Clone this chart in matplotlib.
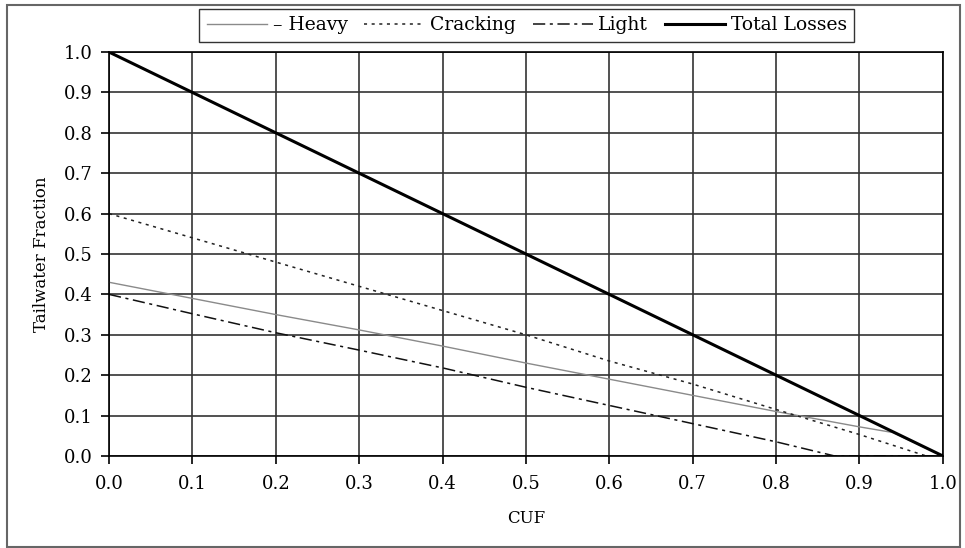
import matplotlib
matplotlib.use("Agg")
import matplotlib.pyplot as plt
from matplotlib.patches import Rectangle

plt.rcParams['font.family'] = ['DejaVu Serif']

# CUF vs tailwater fraction
heavy_x = [0.0, 0.1, 0.2, 0.3, 0.4, 0.5, 0.6, 0.7, 0.8, 0.9, 0.94, 1.0]
heavy_y = [0.43, 0.39, 0.35, 0.312, 0.272, 0.23, 0.19, 0.15, 0.11, 0.072, 0.058, 0.0]

cracking_x = [0.0, 0.1, 0.2, 0.3, 0.4, 0.5, 0.6, 0.7, 0.8, 0.9, 0.98, 1.0]
cracking_y = [0.60, 0.54, 0.48, 0.42, 0.36, 0.30, 0.235, 0.178, 0.115, 0.053, 0.0, 0.0]

light_x = [0.0, 0.1, 0.2, 0.3, 0.4, 0.5, 0.6, 0.7, 0.8, 0.87, 1.0]
light_y = [0.40, 0.352, 0.305, 0.262, 0.218, 0.17, 0.125, 0.08, 0.035, 0.0, 0.0]

total_x = [0.0, 0.1, 0.2, 0.3, 0.4, 0.5, 0.6, 0.7, 0.8, 0.9, 1.0]
total_y = [1.0, 0.9, 0.8, 0.7, 0.6, 0.5, 0.4, 0.3, 0.2, 0.1, 0.0]

ticks = [0.0, 0.1, 0.2, 0.3, 0.4, 0.5, 0.6, 0.7, 0.8, 0.9, 1.0]

fig = plt.figure(figsize=(9.65, 5.48), dpi=100)
ax = fig.add_axes([0.113, 0.168, 0.864, 0.737])

ax.plot(heavy_x, heavy_y, color='#8a8a8a', lw=1.0, label='– Heavy')
ax.plot(cracking_x, cracking_y, color='#222222', lw=1.1, linestyle=(0, (2, 3)), label='Cracking')
ax.plot(light_x, light_y, color='#111111', lw=1.1, linestyle=(0, (8, 3, 2, 3)), label='Light')
ax.plot(total_x, total_y, color='black', lw=2.2, label='Total Losses')

ax.set_xlim(0, 1)
ax.set_ylim(0, 1)
ax.set_xticks(ticks)
ax.set_yticks(ticks)
ax.set_xticklabels([f'{t:.1f}' for t in ticks], fontsize=13)
ax.set_yticklabels([f'{t:.1f}' for t in ticks], fontsize=13)
ax.tick_params(direction='out', length=6, width=1.2, color='black', pad=6)
ax.tick_params(axis='x', pad=8)
ax.grid(True, color='#333333', lw=1.2)
for s in ax.spines.values():
    s.set_color('black')
    s.set_linewidth(1.2)

ax.set_xlabel('CUF', fontsize=12, labelpad=12)
ax.set_ylabel('Tailwater Fraction', fontsize=12, labelpad=10)

leg = fig.legend(loc='center', bbox_to_anchor=(0.546, 0.954), bbox_transform=fig.transFigure,
                 ncol=4, fontsize=13.5, frameon=True, fancybox=False, handlelength=3.2,
                 columnspacing=0.9, handletextpad=0.3, borderpad=0.4)
leg.get_frame().set_edgecolor('black')
leg.get_frame().set_linewidth(1.0)

fig.patches.append(Rectangle((7 / 965, 1 - 547 / 548), 953 / 965, 542 / 548,
                             transform=fig.transFigure, fill=False,
                             edgecolor='#666666', lw=1.5))

fig.savefig('out.png', dpi=100)
